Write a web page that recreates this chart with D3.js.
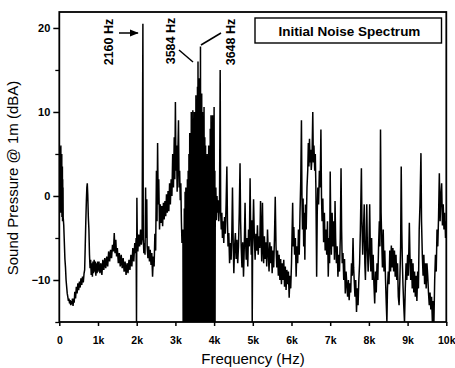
<!DOCTYPE html>
<html>
<head>
<meta charset="utf-8">
<script src="https://cdn.jsdelivr.net/npm/d3@7"></script>
<style>
  html, body { margin: 0; padding: 0; background: #fff; }
  svg { display: block; }
  text { font-family: "Liberation Sans", Arial, sans-serif; }
</style>
</head>
<body>
<script>
// ---------------- DATA (Hz, dBA) ----------------
const spectrum0to2k = [
  [4,1.5],[8,5],[12,-1],[16,4],[20,-2],[24,5.8],[28,0],[32,3],[36,-1.5],[40,6],[44,0.5],[48,4.5],[52,-2],
  [56,3.5],[60,-0.5],[64,5],[68,-2.5],[72,2.5],[76,-1],[80,3.5],[84,-3],[88,2],[92,-2],[96,1],[100,-2.5],
  [115,-3.5],[130,-5.5],[145,-7.5],[160,-8.5],[175,-10],[190,-10.8],[205,-11.6],[220,-12],[235,-12.5],[250,-12.2],
  [265,-12.8],[280,-12.4],[295,-13],[310,-12.5],[325,-12.9],[340,-12.2],[355,-13.1],[370,-12.2],[385,-12.7],
  [400,-11.4],[420,-12.2],[440,-10.8],[460,-11.6],[480,-10.4],[500,-11.2],[520,-10.2],[540,-10.9],[560,-9.8],
  [580,-10.6],[600,-9.6],[620,-10.3],[640,-9.2],[655,-8.8],[670,-6],[685,-3],[700,-0.5],[712,1],[723,1.5],
  [735,0.2],[750,-2.5],[765,-4],[780,-7],[795,-8.6],[810,-7.6],[825,-9.4],[840,-8],[855,-9.6],[870,-7.8],
  [885,-9.2],[900,-7.6],[915,-9],[930,-7.8],[945,-9.5],[960,-8],[975,-9.2],[990,-7.8],
  [1000,-9],[1025,-7.8],[1050,-9.2],[1075,-8],[1100,-9.4],[1125,-7.6],[1150,-8.8],[1175,-7.4],[1200,-8.6],
  [1225,-7.2],[1250,-8.4],[1275,-6.6],[1300,-7.8],[1325,-6.4],[1350,-7.4],[1375,-5.8],[1400,-6.6],[1420,-4.4],
  [1440,-6.8],[1460,-5.2],[1480,-7.2],[1500,-6.2],[1525,-8],[1550,-6.8],[1575,-8.4],[1600,-7],[1625,-8.6],
  [1650,-7.4],[1675,-9],[1700,-7.8],[1725,-9.4],[1750,-8],[1775,-9.2],[1800,-7.6],[1825,-8.8],[1850,-7],
  [1875,-8.4],[1900,-6.2],[1925,-7.8],[1950,-5.6],[1970,-6.8],[1985,-5],[1995,-15],[2005,-0.2],[2015,-5],
  [2030,-6.6],[2050,-4.6],[2075,-6],[2100,-4],[2120,-5.8],[2140,-4.8]
];
const spectrum2kto3k = [
  [2160,20.5],[2170,-5],[2185,-6.8],[2200,-5.6],[2215,-7],[2230,1],[2240,-5],[2260,-0.4],[2270,-6],
  [2290,-7.4],[2310,-6],[2330,-7.8],[2350,-6.4],[2370,-8.2],[2390,-6.8],[2410,-9.6],[2430,-7.2],[2450,-8.4],
  [2470,-4.5],[2490,-6.5],[2510,3],[2525,-3],[2540,6.3],[2555,-1],[2570,2],[2590,-4],[2610,-1],[2630,-3.2],
  [2650,-1.2],[2670,-3.6],[2690,-0.8],[2710,-2.8],[2730,-0.6],[2750,-2.4],[2770,0.2],[2790,-2],[2810,0.6],
  [2830,-1.8],[2850,1.5],[2870,-1],[2890,2],[2910,0],[2930,5],[2950,1],[2970,7],[2985,2],[3000,11.2],
  [3015,3],[3030,6],[3045,0.5],[3060,4],[3080,9],[3095,1],[3110,3],[3125,-0.5],[3140,1.5],[3155,-3],
  [3170,-5.6],[3185,-4]
];
const spectrumPeakBand = [
  [3195,-5.6],[3200,-15],[3210,-4],[3220,-15],[3230,-1.5],[3240,-15],[3250,0.5],[3260,-15],[3270,1],
  [3280,-15],[3290,0],[3300,-15],[3310,2],[3320,-15],[3330,3],[3340,-15],[3350,5],[3360,-15],[3370,7.5],
  [3380,-15],[3390,6],[3400,-15],[3410,10],[3420,-15],[3430,8],[3440,-15],[3450,10.2],[3460,-15],[3470,9],
  [3480,-15],[3490,10],[3500,-15],[3510,8],[3520,-15],[3530,12],[3540,-15],[3550,11],[3560,-15],[3570,13],
  [3577,-15],[3584,16],[3592,-15],[3600,13.5],[3610,-15],[3620,14],[3632,-15],[3648,17.8],[3656,-15],
  [3665,12],[3672,-15],[3680,12.2],[3690,-15],[3700,10],[3710,-15],[3720,9],[3730,-15],[3740,10.6],
  [3750,-15],[3760,7],[3770,-15],[3780,6],[3790,-15],[3800,4.3],[3810,-15],[3820,5],[3830,-15],[3840,3.5],
  [3850,-15],[3860,6],[3870,-15],[3880,4],[3890,-15],[3900,8],[3910,-15],[3920,9.6],[3930,-15],[3940,7],
  [3950,-15],[3960,9.6],[3970,-15],[3980,8],[3990,-15],[4000,10.6],[4010,-15],[4020,3],[4025,-15]
];
const spectrum4kto6k = [
  [4030,-1],[4045,1],[4060,-2.9],[4075,0],[4090,-2],[4105,-0.5],[4120,-3],[4140,-1],[4157,15],[4170,-2],
  [4185,-4],[4200,-2],[4215,-5],[4230,-3],[4250,-5.6],[4270,-2.5],[4290,-4.5],[4310,-1],[4330,3.5],
  [4345,-3],[4360,-6],[4380,-4.4],[4400,-8],[4420,-5.6],[4440,-7.6],[4460,-4],[4475,1],[4495,-6],
  [4510,-9.2],[4530,-6],[4550,-4.4],[4570,-7.5],[4590,-5.2],[4610,-8],[4630,-6],[4650,-2],[4670,3.9],
  [4685,-3],[4700,-6],[4720,-8.5],[4740,-5.5],[4760,-9.6],[4780,-6],[4800,-0.8],[4815,-5.5],[4830,-7.6],
  [4850,-5],[4870,-8.4],[4890,-4],[4910,-6],[4930,2.1],[4945,-4],[4960,-7],[4975,-2.9],[4985,-15],
  [4995,-6.5],[5020,-0.4],[5040,-5],[5060,-7.6],[5080,-4.5],[5100,-6.5],[5120,-3.5],[5140,-7],[5160,-4.8],
  [5180,-6.2],[5200,-0.6],[5215,-5],[5230,-7.8],[5250,-0.8],[5265,-6],[5280,-8],[5300,-4.8],[5320,-7.5],
  [5340,-5.5],[5360,-8.4],[5380,-4],[5400,-6.8],[5420,-9],[5440,-5.5],[5460,-8],[5480,-6],[5500,-9.2],
  [5520,-6.5],[5540,-8.5],[5560,-5],[5580,-0.1],[5600,-6],[5620,-8.5],[5640,-6.5],[5660,-9.5],[5680,-7],
  [5700,-10],[5720,-7.5],[5740,-10.5],[5760,-8],[5780,-10],[5800,-7.6],[5820,-10.8],[5840,-8.4],
  [5860,-11.2],[5880,-8.8],[5900,-10.5],[5920,-9],[5940,-12.1],[5960,-9.5],[5980,-11],[6000,-8],
  [6030,-0.8],[6045,-6]
];
const spectrum6kto8k = [
  [6060,-3.7],[6080,-7],[6100,-5],[6120,-9.6],[6140,-6],[6160,-8],[6180,-4],[6200,-7],[6220,-2],[6240,2],
  [6257,9],[6270,0],[6285,-4],[6300,-0.3],[6315,-6],[6330,-2],[6345,-7.6],[6360,-1],[6380,-4],[6400,1],
  [6420,3.1],[6435,6.3],[6450,3.5],[6465,6.8],[6480,4],[6495,5.5],[6510,3.1],[6530,4.5],[6550,10],
  [6565,4],[6580,6],[6600,3],[6615,5],[6630,1],[6650,-9.6],[6665,-2],[6680,1],[6700,-1],[6720,3],[6740,1],
  [6760,7.9],[6775,0],[6790,-3],[6810,-0.3],[6830,-5.5],[6850,-2],[6870,-6.5],[6890,-4],[6910,-7],
  [6930,-3],[6950,-9.6],[6970,-5],[6985,-8],[7000,2.9],[7015,-4],[7030,-7],[7050,-2],[7070,-6],[7090,-3],
  [7110,-7.6],[7125,-0.6],[7140,-5],[7160,-8],[7180,-6],[7200,-9.6],[7220,-7],[7240,-9],[7260,-5],
  [7280,3.3],[7295,-4],[7310,-8],[7330,-6.8],[7350,-10],[7370,-7.5],[7390,-11.6],[7410,-9],[7430,-10.5],
  [7450,-12],[7470,-10],[7490,-12.4],[7510,-10.4],[7530,-11.5],[7550,-8],[7570,-9.5],[7590,-5],
  [7605,-8.5],[7620,-10],[7640,-12],[7660,-10],[7680,-13.8],[7700,-11],[7720,-13],[7740,-10],[7760,-8],
  [7780,-4],[7806,3.3],[7820,-3],[7840,-7],[7860,-4],[7880,-1],[7895,-8],[7910,-10],[7930,-5],[7945,-1],
  [7960,-6],[7980,-9],[8000,-7]
];
const spectrum8kto10k = [
  [8020,-1],[8035,-6],[8050,-9],[8070,-5],[8090,-10],[8110,-7],[8130,-10.5],[8150,-12.8],[8170,-9],
  [8190,-11.5],[8210,-8],[8230,-10],[8250,-6],[8270,-3],[8285,-6],[8300,7.9],[8315,-2],[8330,-5],
  [8350,-8.5],[8370,-4],[8390,-9],[8410,-6.5],[8430,-10],[8450,-13],[8465,-15],[8480,-11],[8500,-9],
  [8520,-10.5],[8540,-6.5],[8560,-9],[8580,-5.9],[8600,-8.5],[8620,-6.2],[8640,-9],[8660,-6.5],[8680,-9.6],
  [8700,-7],[8720,-10],[8740,-8],[8760,-12],[8780,-13],[8800,-10],[8820,-6],[8835,3.5],[8850,-4],
  [8865,-8],[8880,-10.5],[8900,-13],[8920,-15],[8940,-11],[8960,-8],[8980,-10],[9000,-7],[9020,-9.5],
  [9045,-3.2],[9060,-7],[9080,-10],[9100,-7.5],[9120,-11],[9140,-8],[9160,-11.5],[9180,-9],[9200,-12],
  [9220,-9.5],[9240,-12.5],[9260,-9],[9280,-11],[9300,-4],[9320,-1],[9345,5.1],[9360,-3],[9380,-7],
  [9400,-9.5],[9420,-7],[9440,-10.5],[9460,-8],[9480,-11],[9500,-8],[9520,-9.5],[9540,-11.5],[9560,-13],
  [9580,-11.5],[9600,-13.5],[9620,-12],[9640,-15],[9660,-12.5],[9680,-15],[9700,-10],[9720,-7],[9740,-9],
  [9760,-4],[9780,-6],[9800,-2.5],[9820,2.7],[9840,-3],[9860,0],[9880,1.5],[9900,-3.5],[9920,-1],
  [9940,-4],[9960,-2],[9980,-5],[10000,-3]
];
const xTickValues = [0,1000,2000,3000,4000,5000,6000,7000,8000,9000,10000];
const xTickLabels = ["0","1k","2k","3k","4k","5k","6k","7k","8k","9k","10k"];
const yTickValues = [-10,0,10,20];
const yMinorTicks = [-15,-5,5,15];
const peakLabels = ["2160 Hz","3584 Hz","3648 Hz"];
const legendLabel = "Initial Noise Spectrum";
const xTitle = "Frequency (Hz)";
const yTitle = "Sound Pressure @ 1m (dBA)";

// ---------------- CHART ----------------
const spectrum = [].concat(spectrum0to2k, spectrum2kto3k, spectrumPeakBand,
                           spectrum4kto6k, spectrum6kto8k, spectrum8kto10k);

const W = 455, H = 368;
const svg = d3.select("body").append("svg").attr("width", W).attr("height", H);

const x = d3.scaleLinear().domain([0, 10000]).range([59.3, 446.3]);
const y = d3.scaleLinear().domain([-15, 21.9]).range([322, 12]);

svg.append("clipPath").attr("id", "plotClip")
  .append("rect")
  .attr("x", x(0)).attr("y", y(21.9))
  .attr("width", x(10000) - x(0)).attr("height", y(-15) - y(21.9));

// spectrum line
svg.append("path")
  .datum(spectrum)
  .attr("clip-path", "url(#plotClip)")
  .attr("fill", "none")
  .attr("stroke", "#000")
  .attr("stroke-width", 1.5)
  .attr("stroke-linejoin", "miter")
  .attr("d", d3.line().x(d => x(d[0])).y(d => y(d[1])));

// frame
svg.append("rect")
  .attr("x", x(0)).attr("y", y(21.9))
  .attr("width", x(10000) - x(0)).attr("height", y(-15) - y(21.9))
  .attr("fill", "none").attr("stroke", "#000").attr("stroke-width", 1.8);

// bottom axis
const xAxis = svg.append("g").attr("transform", `translate(0,${y(-15)})`)
  .call(d3.axisBottom(x).tickValues(xTickValues)
        .tickFormat((d, i) => xTickLabels[i]).tickSize(4).tickPadding(10.5));
xAxis.select(".domain").remove();
xAxis.selectAll("line").attr("stroke-width", 1.5);
xAxis.selectAll("text").attr("font-size", 10.5).attr("font-weight", "bold")
  .attr("fill", "#000").style("font-family", '"Liberation Sans", Arial, sans-serif');

// left axis
const yAxis = svg.append("g").attr("transform", `translate(${x(0)},0)`)
  .call(d3.axisLeft(y).tickValues(yTickValues).tickSize(6).tickPadding(3));
yAxis.select(".domain").remove();
yAxis.selectAll("line").attr("stroke-width", 1.5);
yAxis.selectAll("text").attr("font-size", 11).attr("font-weight", "bold")
  .attr("fill", "#000").style("font-family", '"Liberation Sans", Arial, sans-serif');

const yMinor = svg.append("g").attr("transform", `translate(${x(0)},0)`)
  .call(d3.axisLeft(y).tickValues(yMinorTicks).tickSize(4).tickFormat(""));
yMinor.select(".domain").remove();
yMinor.selectAll("line").attr("stroke-width", 1.3);

// axis titles
svg.append("text")
  .attr("x", 253).attr("y", 364)
  .attr("text-anchor", "middle")
  .attr("font-size", 15)
  .attr("fill", "#000")
  .text(xTitle);

svg.append("text")
  .attr("transform", "translate(18,178) rotate(-90)")
  .attr("text-anchor", "middle")
  .attr("font-size", 15)
  .attr("fill", "#000")
  .text(yTitle);

// legend box
svg.append("rect")
  .attr("x", 255).attr("y", 18).attr("width", 186.5).attr("height", 25)
  .attr("fill", "#fff").attr("stroke", "#000").attr("stroke-width", 1.4);
svg.append("text")
  .attr("x", 349.5).attr("y", 35.5)
  .attr("text-anchor", "middle")
  .attr("font-size", 13.5).attr("font-weight", "bold")
  .attr("fill", "#000")
  .text(legendLabel);

// peak annotations
const defs = svg.append("defs");
defs.append("marker").attr("id", "arrowHead")
  .attr("viewBox", "0 0 10 10").attr("refX", 9).attr("refY", 5)
  .attr("markerWidth", 6).attr("markerHeight", 6).attr("orient", "auto")
  .append("path").attr("d", "M0,1 L10,5 L0,9 Z").attr("fill", "#000");

function vLabel(text, cx, cy) {
  svg.append("text")
    .attr("transform", `translate(${cx},${cy}) rotate(-90)`)
    .attr("text-anchor", "middle")
    .attr("dominant-baseline", "central")
    .attr("font-size", 12.5).attr("font-weight", "bold")
    .attr("fill", "#000")
    .text(text);
}
vLabel(peakLabels[0], 109, 42);
vLabel(peakLabels[1], 171, 41);
vLabel(peakLabels[2], 231, 42);

svg.append("line")
  .attr("x1", 119).attr("y1", 33).attr("x2", x(2160) - 5).attr("y2", 33)
  .attr("stroke", "#000").attr("stroke-width", 1.5)
  .attr("marker-end", "url(#arrowHead)");
svg.append("line")
  .attr("x1", 179).attr("y1", 50).attr("x2", x(3584) - 5).attr("y2", 62)
  .attr("stroke", "#000").attr("stroke-width", 1.5);
svg.append("line")
  .attr("x1", 221).attr("y1", 33).attr("x2", x(3648) + 0.5).attr("y2", 45)
  .attr("stroke", "#000").attr("stroke-width", 1.5);
</script>
</body>
</html>
